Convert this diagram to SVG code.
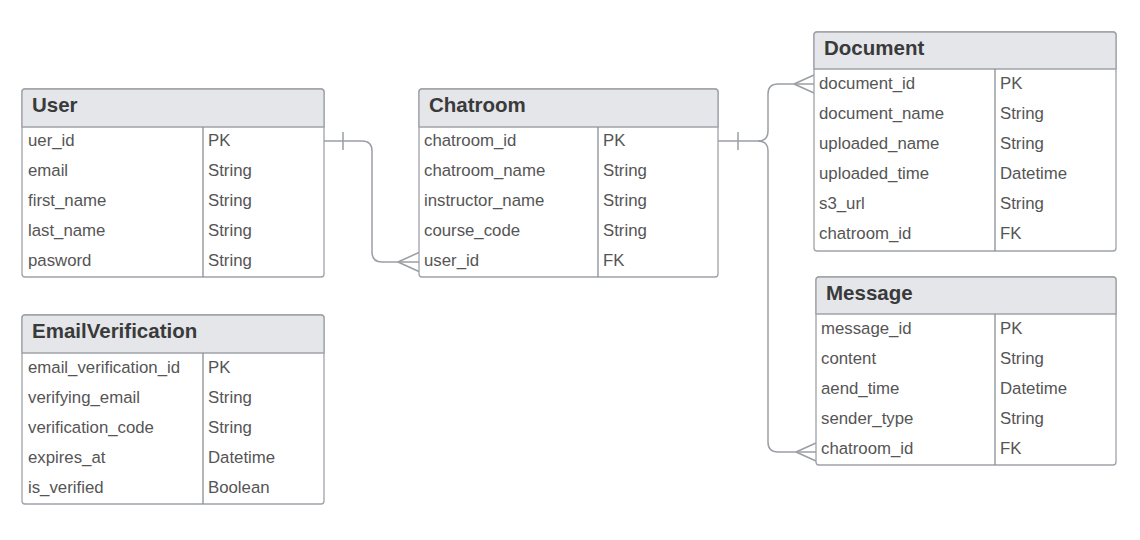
<svg xmlns="http://www.w3.org/2000/svg" width="1140" height="540" viewBox="0 0 1140 540">
<style>
.box{fill:#fff;stroke:#9ea2a8;stroke-width:1.3}
.hdr{fill:#e4e6ea;stroke:#9ea2a8;stroke-width:1.3}
.div{stroke:#8a8e94;stroke-width:1.3}
.title{font-family:"Liberation Sans",Arial,sans-serif;font-weight:bold;font-size:20.5px;fill:#3a3a3a}
.row{font-family:"Liberation Sans",Arial,sans-serif;font-size:16.8px;fill:#555}
.conn{fill:none;stroke:#9a9ea4;stroke-width:1.5}
</style>
<rect width="1140" height="540" fill="#fff"/>
<g id="connectors">
<path class="conn" d="M324,141 H362 Q372,141 372,151 V252 Q372,262 382,262 H420"/>
<path class="conn" d="M343,132 V150"/>
<path class="conn" d="M398,262 L420,252 M398,262 L420,272"/>
<path class="conn" d="M718,141 H758 Q768,141 768,131 V94 Q768,84 778,84 H814"/>
<path class="conn" d="M758,141 Q768,141 768,151 V442 Q768,452 778,452 H816"/>
<path class="conn" d="M738,132 V150"/>
<path class="conn" d="M794,84 L814,75 M794,84 L814,93"/>
<path class="conn" d="M796,452 L816,443 M796,452 L816,461"/>
</g>
<g id="User">
<rect class="box" x="22" y="89" width="302" height="188" rx="3"/>
<path class="hdr" d="M25,89 H321 Q324,89 324,92 V127 H22 V92 Q22,89 25,89 Z"/>
<line class="div" x1="203" y1="127" x2="203" y2="277"/>
<text class="title" x="32" y="112">User</text>
<text class="row" x="28" y="146">uer_id</text><text class="row" x="208" y="146">PK</text>
<text class="row" x="28" y="176">email</text><text class="row" x="208" y="176">String</text>
<text class="row" x="28" y="206">first_name</text><text class="row" x="208" y="206">String</text>
<text class="row" x="28" y="236">last_name</text><text class="row" x="208" y="236">String</text>
<text class="row" x="28" y="266">pasword</text><text class="row" x="208" y="266">String</text>
</g>
<g id="Chatroom">
<rect class="box" x="419" y="89" width="299" height="188" rx="3"/>
<path class="hdr" d="M422,89 H715 Q718,89 718,92 V127 H419 V92 Q419,89 422,89 Z"/>
<line class="div" x1="598" y1="127" x2="598" y2="277"/>
<text class="title" x="429" y="112">Chatroom</text>
<text class="row" x="424" y="146">chatroom_id</text><text class="row" x="603" y="146">PK</text>
<text class="row" x="424" y="176">chatroom_name</text><text class="row" x="603" y="176">String</text>
<text class="row" x="424" y="206">instructor_name</text><text class="row" x="603" y="206">String</text>
<text class="row" x="424" y="236">course_code</text><text class="row" x="603" y="236">String</text>
<text class="row" x="424" y="266">user_id</text><text class="row" x="603" y="266">FK</text>
</g>
<g id="Document">
<rect class="box" x="814" y="32" width="302" height="219" rx="3"/>
<path class="hdr" d="M817,32 H1113 Q1116,32 1116,35 V69 H814 V35 Q814,32 817,32 Z"/>
<line class="div" x1="995" y1="69" x2="995" y2="251"/>
<text class="title" x="824" y="55">Document</text>
<text class="row" x="819" y="89">document_id</text><text class="row" x="1000" y="89">PK</text>
<text class="row" x="819" y="119">document_name</text><text class="row" x="1000" y="119">String</text>
<text class="row" x="819" y="149">uploaded_name</text><text class="row" x="1000" y="149">String</text>
<text class="row" x="819" y="179">uploaded_time</text><text class="row" x="1000" y="179">Datetime</text>
<text class="row" x="819" y="209">s3_url</text><text class="row" x="1000" y="209">String</text>
<text class="row" x="819" y="239">chatroom_id</text><text class="row" x="1000" y="239">FK</text>
</g>
<g id="Message">
<rect class="box" x="816" y="277" width="300" height="188" rx="3"/>
<path class="hdr" d="M819,277 H1113 Q1116,277 1116,280 V314 H816 V280 Q816,277 819,277 Z"/>
<line class="div" x1="995" y1="314" x2="995" y2="465"/>
<text class="title" x="826" y="300">Message</text>
<text class="row" x="821" y="334">message_id</text><text class="row" x="1000" y="334">PK</text>
<text class="row" x="821" y="364">content</text><text class="row" x="1000" y="364">String</text>
<text class="row" x="821" y="394">aend_time</text><text class="row" x="1000" y="394">Datetime</text>
<text class="row" x="821" y="424">sender_type</text><text class="row" x="1000" y="424">String</text>
<text class="row" x="821" y="454">chatroom_id</text><text class="row" x="1000" y="454">FK</text>
</g>
<g id="EmailVerification">
<rect class="box" x="22" y="315" width="302" height="189" rx="3"/>
<path class="hdr" d="M25,315 H321 Q324,315 324,318 V353 H22 V318 Q22,315 25,315 Z"/>
<line class="div" x1="203" y1="353" x2="203" y2="504"/>
<text class="title" x="32" y="338">EmailVerification</text>
<text class="row" x="28" y="373">email_verification_id</text><text class="row" x="208" y="373">PK</text>
<text class="row" x="28" y="403">verifying_email</text><text class="row" x="208" y="403">String</text>
<text class="row" x="28" y="433">verification_code</text><text class="row" x="208" y="433">String</text>
<text class="row" x="28" y="463">expires_at</text><text class="row" x="208" y="463">Datetime</text>
<text class="row" x="28" y="493">is_verified</text><text class="row" x="208" y="493">Boolean</text>
</g>
</svg>
